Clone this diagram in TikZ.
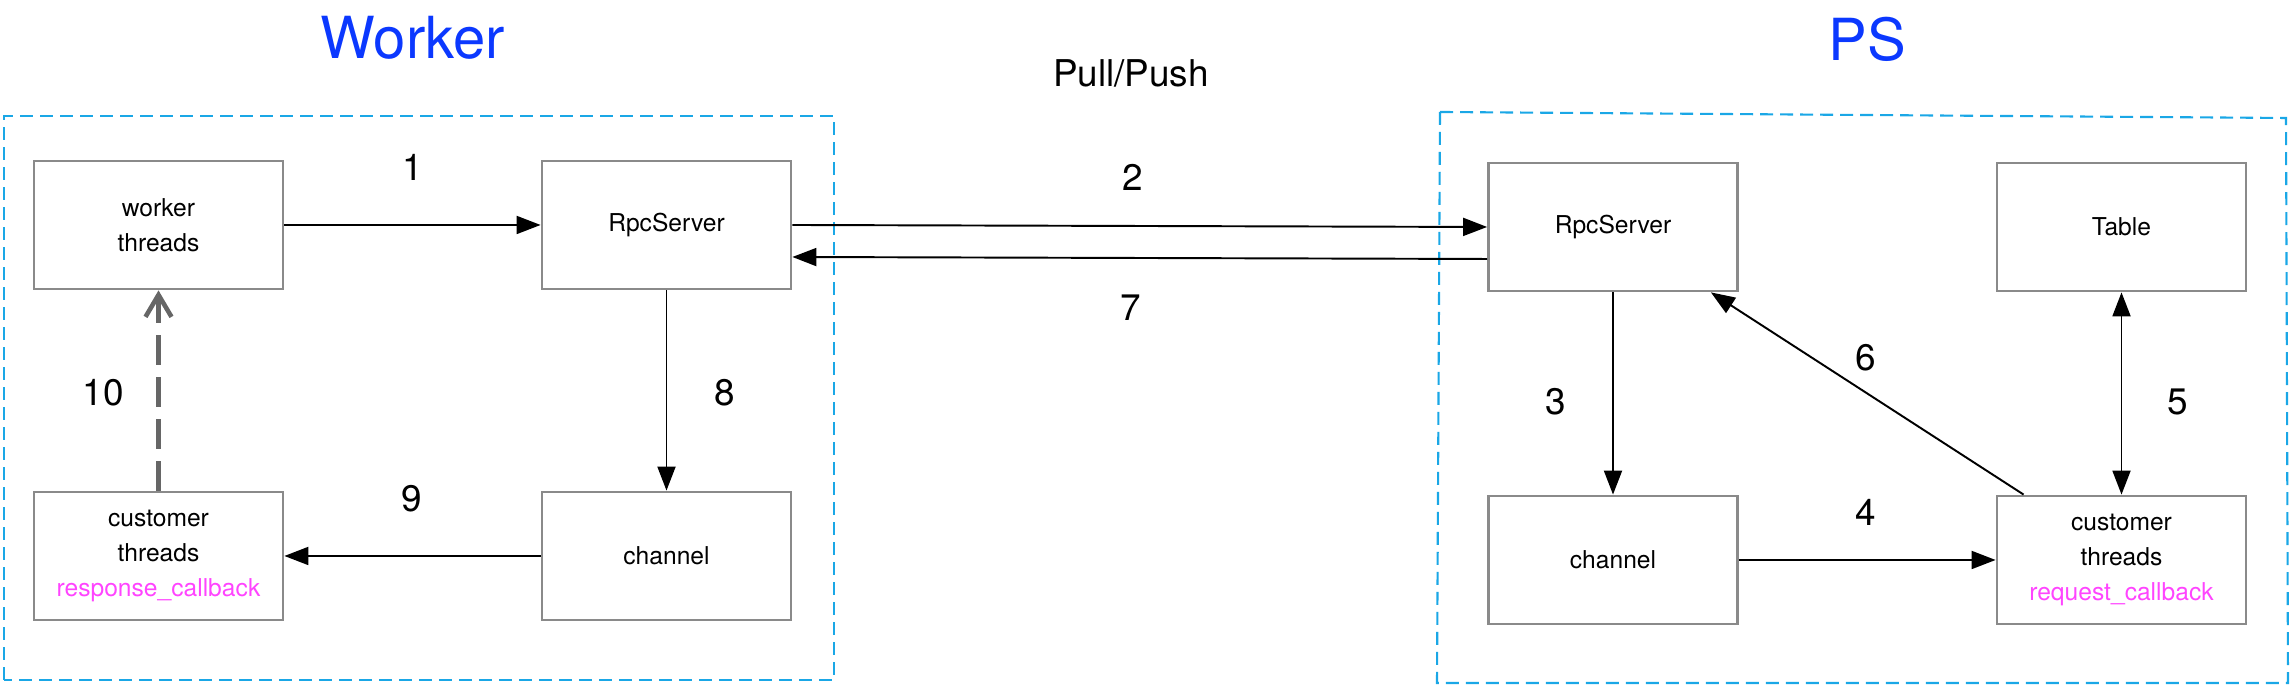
\documentclass[tikz,border=0pt]{standalone}
\usepackage{fontspec}
\setmainfont{TeX Gyre Heros}
\usetikzlibrary{arrows.meta}

\definecolor{titleblue}{HTML}{0B38FF}
\definecolor{groupcyan}{HTML}{1AA7E6}
\definecolor{cbpink}{HTML}{FF44FF}
\definecolor{boxgray}{HTML}{8A8A8A}
\definecolor{backgray}{HTML}{666666}

\tikzset{
  box/.style={draw=boxgray, line width=0.8pt, minimum width=2.49cm, minimum height=1.28cm,
              inner sep=0pt, align=center, font=\fontsize{7}{10}\selectfont},
  num/.style={font=\fontsize{10.5}{12}\selectfont},
  grouptitle/.style={text=titleblue, font=\fontsize{16.5}{18}\selectfont},
  group/.style={draw=groupcyan, line width=0.6pt, dash pattern=on 0.13cm off 0.07cm},
  flow/.style={-{Triangle[length=0.24cm,width=0.18cm]}, line width=0.55pt},
  backflow/.style={-{Straight Barb[length=0.22cm,width=0.26cm]}, draw=backgray,
                   line width=1.3pt, dash pattern=on 0.3cm off 0.12cm},
}

\begin{document}
\begin{tikzpicture}
\useasboundingbox (0,0) rectangle (22.91,6.88);

%---------------------------------------------------
%groups
\draw[group] (0.04,0.08) rectangle (8.34,5.72);
\draw[group] (14.40,5.76) -- (22.86,5.70) -- (22.88,0.05) -- (14.37,0.05) -- cycle;
\node[grouptitle] (wtitle) at (4.13,6.50) {Worker};
\node[grouptitle] (ptitle) at (18.67,6.49) {PS};
\node[font=\fontsize{10.5}{12}\selectfont] (pullpush) at (11.31,6.15) {Pull/Push};

%---------------------------------------------------
%worker side
\node[box] (wthreads) at (1.585,4.63) {worker\\threads};
\node[box] (wrpc)     at (6.665,4.63) {RpcServer};
\node[box] (wcust)    at (1.585,1.32) {customer\\threads\\\textcolor{cbpink}{response\_callback}};
\node[box] (wchan)    at (6.665,1.32) {channel};

%ps side
\node[box] (prpc)   at (16.13,4.61)  {RpcServer};
\node[box] (ptable) at (21.215,4.61) {Table};
\node[box] (pchan)  at (16.13,1.28)  {channel};
\node[box] (pcust)  at (21.215,1.28) {customer\\threads\\\textcolor{cbpink}{request\_callback}};

%---------------------------------------------------
%connectors
\draw[flow] (wthreads) -- (wrpc);
\draw[flow] (wrpc.east) -- (prpc.west);
\draw[flow] (prpc) -- (pchan);
\draw[flow] (pchan) -- (pcust);
\draw[flow,{Triangle[length=0.24cm,width=0.18cm]}-{Triangle[length=0.24cm,width=0.18cm]}] (ptable) -- (pcust);
\draw[flow] ([xshift=0.28cm]pcust.north west) -- ([xshift=-0.28cm]prpc.south east);
\draw[flow] ([yshift=-0.32cm]prpc.west) -- ([yshift=-0.32cm]wrpc.east);
\draw[flow] (wrpc) -- (wchan);
\draw[flow] (wchan) -- (wcust);
\draw[backflow] (wcust) -- (wthreads);

%---------------------------------------------------
%step numbers
\node[num] (n1)  at (4.13,5.21)  {1};
\node[num] (n2)  at (11.33,5.11) {2};
\node[num] (n3)  at (15.56,2.86) {3};
\node[num] (n4)  at (18.66,1.76) {4};
\node[num] (n5)  at (21.78,2.86) {5};
\node[num] (n6)  at (18.66,3.30) {6};
\node[num] (n7)  at (11.31,3.80) {7};
\node[num] (n8)  at (7.25,2.95)  {8};
\node[num] (n9)  at (4.12,1.89)  {9};
\node[num] (n10) at (1.03,2.95)  {10};

\end{tikzpicture}
\end{document}
